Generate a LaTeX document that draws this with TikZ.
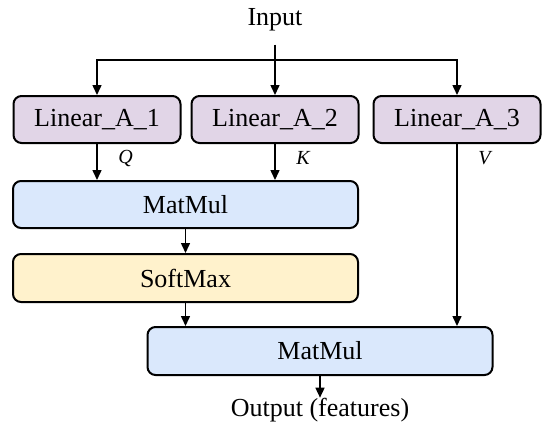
\documentclass[tikz,border=0pt]{standalone}
\usepackage{fontspec}
\setmainfont{Liberation Serif}
\usepackage{xcolor}
\usepackage{tikz}
\usetikzlibrary{positioning, arrows.meta}

\definecolor{lilac}{HTML}{E1D5E7}
\definecolor{paleblue}{HTML}{DAE8FC}
\definecolor{paleyellow}{HTML}{FFF2CC}

\begin{document}
\begin{tikzpicture}[
    on grid,
    every node/.style={font=\fontsize{13}{15}\selectfont},
    % lilac boxes for the three projections
    linear/.style={draw, line width=1pt, rounded corners=4pt, minimum width=83.5pt,
                   minimum height=23.5pt, fill=lilac},
    % pale blue for the matrix products
    matmul/.style={draw, line width=1pt, rounded corners=4pt, minimum width=172.5pt,
                   minimum height=23.5pt, fill=paleblue},
    % pale yellow for the normalisation
    softbox/.style={draw, line width=1pt, rounded corners=4pt, minimum width=172.5pt,
                    minimum height=24pt, fill=paleyellow},
    arrow/.style={-{Triangle[length=5pt, width=4.5pt]}, line width=0.75pt},
    qkv/.style={font=\fontsize{10}{12}\selectfont\itshape}
]
\useasboundingbox (0,0) rectangle (275pt,-217pt);

\node[inner sep=6.5pt] (input) at (137.5pt,-10pt) {Input};
\coordinate[below=20pt of input] (fork);

\node[linear, below=49.75pt of input] (lin2) {Linear\_A\_2};
\node[linear, left=89pt of lin2] (lin1) {Linear\_A\_1};
\node[linear, right=91pt of lin2] (lin3) {Linear\_A\_3};

\node[matmul, below left=42.5pt and 44.75pt of lin2] (mm1) {MatMul};
\node[softbox, below=36.75pt of mm1] (soft) {SoftMax};
\node[matmul, minimum height=24pt, below right=36.5pt and 67.25pt of soft] (mm2) {MatMul};

\node[inner sep=0pt, below=29.5pt of mm2] (output) {Output (features)};

\draw[arrow] (input) -- (lin2);
\draw[arrow] (fork) -| (lin1);
\draw[arrow] (fork) -| (lin3);

\draw[arrow] (lin1.south) -- node[qkv, pos=0.4, right=7pt] {Q} (lin1.south |- mm1.north);
\draw[arrow] (lin2.south) -- node[qkv, pos=0.4, right=7pt] {K} (lin2.south |- mm1.north);
\draw[arrow] (lin3.south) -- node[qkv, pos=0.08, right=7pt] {V} (lin3.south |- mm2.north);

\draw[arrow] (mm1) -- (soft);
\draw[arrow] (soft.south) -- (soft.south |- mm2.north);
\draw[arrow] (mm2) -- (output);

\end{tikzpicture}
\end{document}
